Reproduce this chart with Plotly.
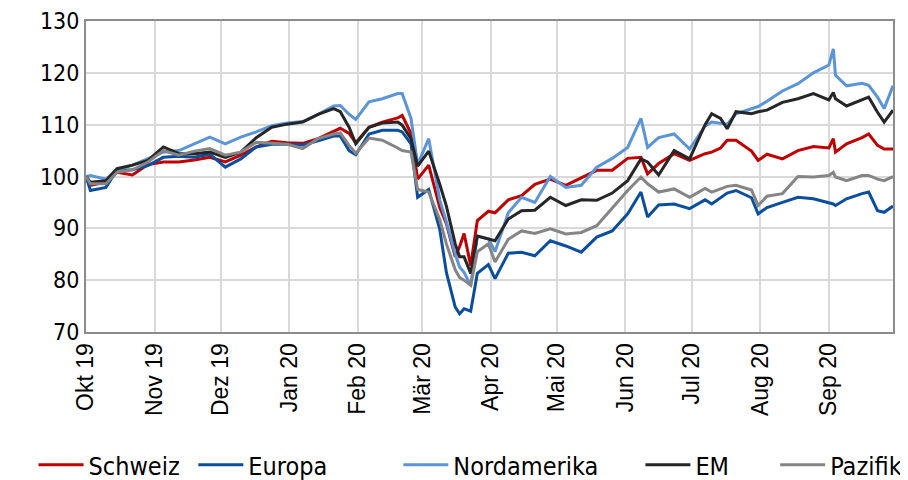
import plotly.graph_objects as go

dates = [
    "2019-10-01", "2019-10-03", "2019-10-10", "2019-10-15", "2019-10-22", "2019-10-29",
    "2019-11-05", "2019-11-12", "2019-11-19", "2019-11-26", "2019-12-03", "2019-12-10",
    "2019-12-17", "2019-12-24", "2019-12-31", "2020-01-07", "2020-01-14", "2020-01-21",
    "2020-01-24", "2020-01-28", "2020-01-31", "2020-02-06", "2020-02-12", "2020-02-19",
    "2020-02-21", "2020-02-25", "2020-02-28", "2020-03-04", "2020-03-09", "2020-03-12",
    "2020-03-16", "2020-03-18", "2020-03-20", "2020-03-23", "2020-03-26", "2020-03-31",
    "2020-04-03", "2020-04-09", "2020-04-15", "2020-04-21", "2020-04-28", "2020-05-05",
    "2020-05-12", "2020-05-19", "2020-05-26", "2020-06-02", "2020-06-08", "2020-06-11",
    "2020-06-16", "2020-06-23", "2020-06-30", "2020-07-07", "2020-07-10", "2020-07-14",
    "2020-07-17", "2020-07-21", "2020-07-28", "2020-07-31", "2020-08-04", "2020-08-11",
    "2020-08-18", "2020-08-25", "2020-09-01", "2020-09-03", "2020-09-04", "2020-09-09",
    "2020-09-16", "2020-09-19", "2020-09-23", "2020-09-26", "2020-09-30",
]

schweiz = [
    100, 98.3, 98.9, 100.8, 100.3, 102.3,
    102.8, 102.8, 103.2, 103.7, 102.8, 104.1,
    105.7, 106.8, 106.5, 106.4, 107.3, 108.8,
    109.3, 108.3, 106.5, 109.5, 110.5, 111.3,
    111.8, 108.3, 99.5, 102.2, 94.0, 90.9,
    84.5, 86.5, 89.0, 82.8, 91.5, 93.3,
    93.0, 95.5, 96.3, 98.5, 99.5, 98.3,
    99.7, 101.2, 101.2, 103.5, 103.7, 100.5,
    102.5, 104.4, 103.1, 104.4, 104.7, 105.5,
    107.0, 107.0, 104.9, 103.1, 104.3, 103.4,
    105.0, 105.8, 105.5, 107.3, 104.7, 106.3,
    107.5, 108.2, 106.0, 105.3, 105.3,
]

europa = [
    100, 97.3, 97.9, 101.2, 101.3, 102.1,
    103.7, 103.9, 103.7, 104.3, 101.8, 103.4,
    105.7, 106.2, 106.2, 106.1, 106.9, 107.8,
    107.8, 105.0, 104.2, 108.2, 108.9, 108.9,
    108.6, 106.3, 96.0, 97.5, 89.8, 81.5,
    74.8, 73.5, 74.5, 74.0, 81.3, 83.0,
    80.3, 85.2, 85.4, 84.7, 87.6, 86.6,
    85.4, 88.3, 89.5, 92.8, 97.0, 92.2,
    94.5, 94.7, 93.8, 95.5, 94.7, 96.0,
    96.8, 97.3, 95.9, 92.8, 94.0, 95.0,
    96.0, 95.7, 95.0, 94.7, 94.4, 95.7,
    96.7, 97.0, 93.4, 93.1, 94.3,
]

nordamerika = [
    100, 100.2, 99.5, 101.2, 102.2, 103.4,
    104.7, 105.0, 106.3, 107.6, 106.3, 107.6,
    108.6, 109.8, 110.3, 110.6, 112.0, 113.6,
    113.7, 112.0, 111.0, 114.4, 115.0, 116.0,
    116.0, 111.2, 102.3, 107.3, 95.5, 91.3,
    85.0, 82.5, 81.5, 79.0, 88.5, 88.0,
    85.5, 93.0, 96.0, 95.0, 100.0, 97.9,
    98.3, 101.8, 103.5, 105.6, 111.2, 105.6,
    107.5, 108.2, 105.3, 109.7, 110.5, 110.3,
    110.1, 112.1, 113.1, 113.5, 114.5, 116.5,
    117.9, 120.0, 121.5, 124.6, 119.5, 117.5,
    118.0, 117.6, 115.3, 113.1, 117.5,
]

em = [
    100, 98.9, 99.2, 101.5, 102.2, 103.1,
    105.7, 104.4, 104.4, 104.7, 103.7, 104.7,
    107.5, 109.5, 110.1, 110.5, 112.0, 113.1,
    112.5, 109.5, 106.3, 109.5, 110.3, 110.5,
    109.9, 107.3, 102.0, 104.9, 98.5, 94.3,
    87.0, 84.5, 84.5, 81.3, 88.5, 88.0,
    87.6, 91.8, 93.4, 93.5, 96.0, 94.4,
    95.5, 95.4, 96.8, 99.2, 103.4, 102.8,
    100.3, 105.0, 103.4, 110.0, 112.1, 111.2,
    109.2, 112.5, 112.1, 112.5, 112.8, 114.3,
    115.0, 116.0, 114.8, 116.2, 115.0, 113.6,
    114.7, 115.3, 112.4, 110.5, 112.8,
]

pazifik = [
    100, 98.6, 98.6, 100.8, 101.3, 102.8,
    105.0, 104.1, 104.9, 105.4, 104.1, 104.7,
    106.6, 106.4, 106.2, 105.4, 107.3, 108.2,
    108.4, 106.0, 104.5, 107.4, 107.0, 105.5,
    105.0, 104.7, 97.5, 97.0, 91.7, 87.0,
    82.0, 80.5, 80.0, 79.0, 85.5, 87.0,
    83.5, 87.9, 89.5, 89.0, 89.9, 88.9,
    89.2, 90.5, 94.0, 97.3, 99.9, 98.6,
    97.0, 97.6, 96.0, 97.7, 97.0, 97.6,
    98.1, 98.3, 97.4, 94.4, 96.2, 96.7,
    100.0, 99.9, 100.2, 100.8, 99.9, 99.2,
    100.2, 100.2, 99.5, 99.2, 100.0,
]

series_names = ["Schweiz", "Europa", "Nordamerika", "EM", "Pazifik"]
series_values = [schweiz, europa, nordamerika, em, pazifik]
series_colors = ["#C00000", "#0B4E9E", "#5B95D8", "#262626", "#858585"]

tick_vals = ["2019-10-01", "2019-11-01", "2019-12-01", "2020-01-01", "2020-02-01",
             "2020-03-01", "2020-04-01", "2020-05-01", "2020-06-01", "2020-07-01",
             "2020-08-01", "2020-09-01"]
tick_text = ["Okt 19", "Nov 19", "Dez 19", "Jan 20", "Feb 20", "Mär 20",
             "Apr 20", "Mai 20", "Jun 20", "Jul 20", "Aug 20", "Sep 20"]

legend_x = [-0.065, 0.133, 0.387, 0.687, 0.854]

NARROW = "'DejaVu Sans Condensed', 'DejaVu Sans', sans-serif"
REGULAR = "'Liberation Sans', Arial, sans-serif"

fig = go.Figure()
legend_layouts = {}
for i, (name, vals, col) in enumerate(zip(series_names, series_values, series_colors)):
    lname = "legend" if i == 0 else f"legend{i+1}"
    fig.add_trace(go.Scatter(
        x=dates, y=vals, name=name, mode="lines",
        line=dict(color=col, width=3),
        legend=lname,
    ))
    legend_layouts[lname] = dict(
        x=legend_x[i], xanchor="left", y=-0.428, yanchor="middle",
        orientation="h", bgcolor="rgba(0,0,0,0)",
        font=dict(family=NARROW, size=25, color="#000000"),
        itemwidth=45,
    )

# page body has an 8px margin, so the figure is 900x472 and offset by 8px
fig.update_layout(
    width=900, height=472,
    margin=dict(l=78, r=15, t=13, b=148, autoexpand=False),
    paper_bgcolor="white", plot_bgcolor="white",
    showlegend=True,
    **legend_layouts,
)
fig.update_xaxes(
    type="date", range=["2019-10-01", "2020-09-30"],
    tickmode="array", tickvals=tick_vals, ticktext=tick_text, tickangle=-90,
    showgrid=True, gridcolor="#D9D9D9", gridwidth=1.5,
    showline=True, linecolor="#8C8C8C", linewidth=2, mirror=True,
    ticks="", tickfont=dict(family=REGULAR, size=23, color="#000000"),
    zeroline=False, automargin=False,
)
fig.update_yaxes(
    range=[70, 130], dtick=10, tick0=70,
    showgrid=True, gridcolor="#D9D9D9", gridwidth=1.5,
    showline=True, linecolor="#8C8C8C", linewidth=2, mirror=True,
    ticks="", tickfont=dict(family=NARROW, size=23, color="#000000"),
    zeroline=False, automargin=False,
)

fig.write_html("out.html")
